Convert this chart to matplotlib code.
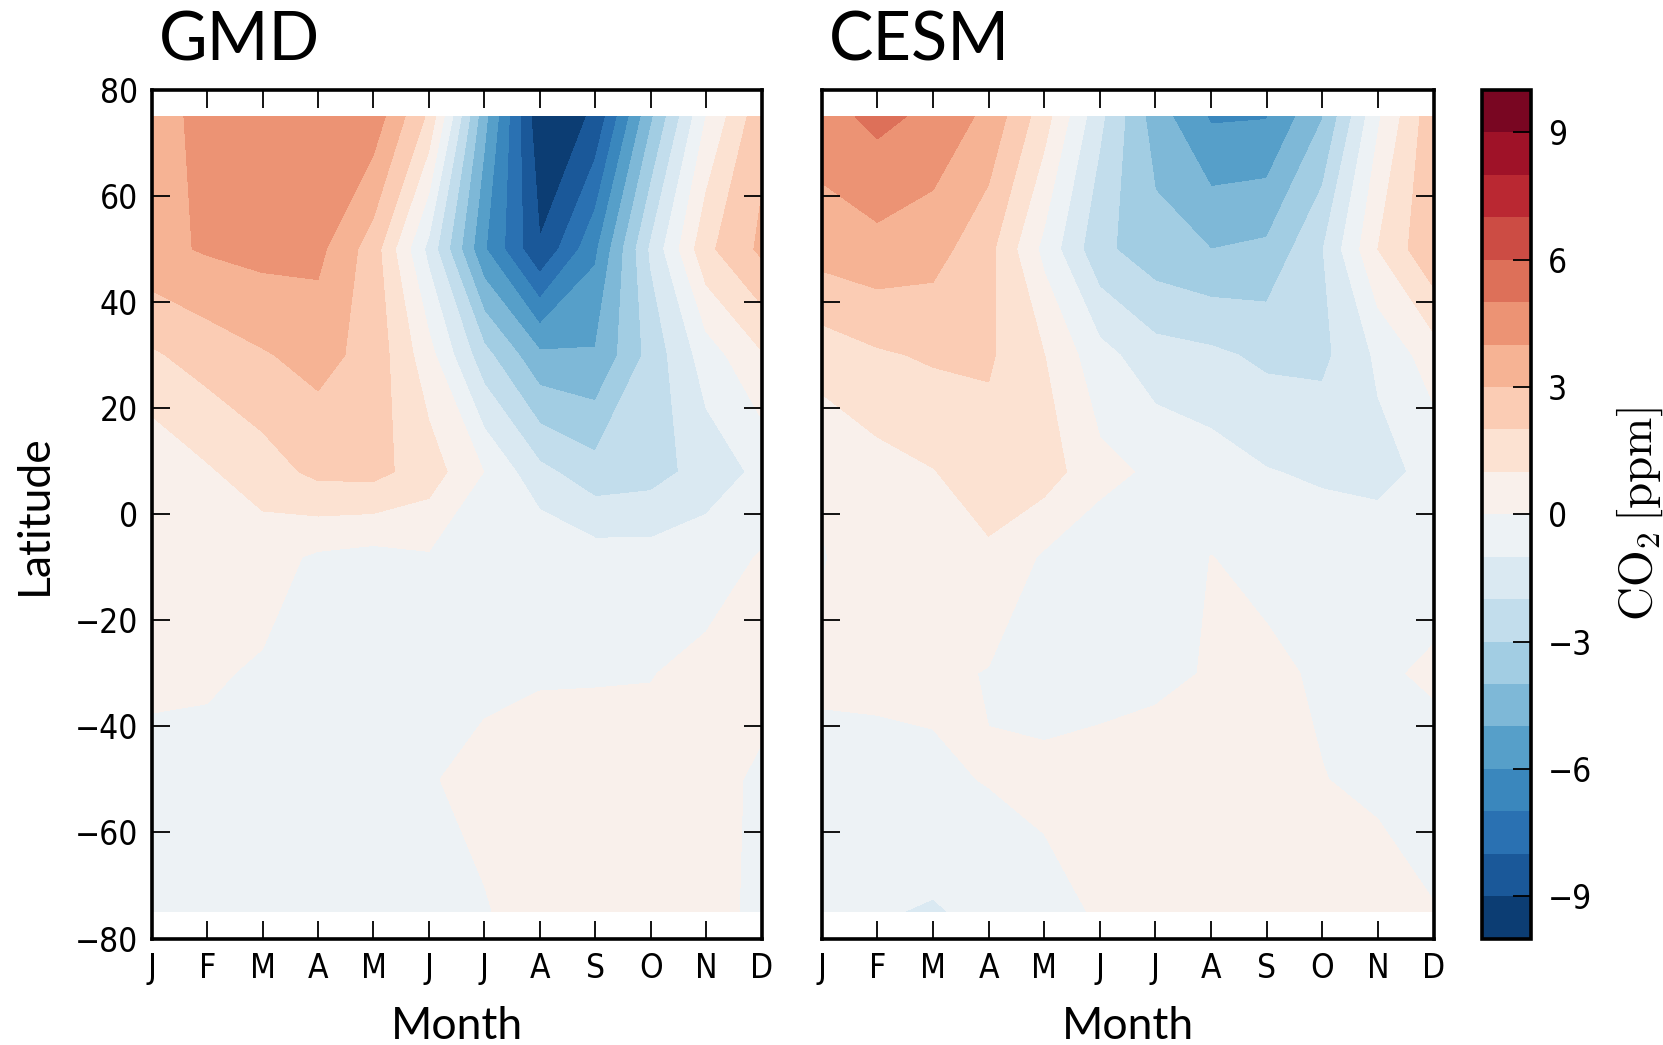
import numpy as np
import matplotlib
matplotlib.use("Agg")
import matplotlib.pyplot as plt

months = ["J", "F", "M", "A", "M", "J", "J", "A", "S", "O", "N", "D"]
lats = [-75, -50, -30, -8, 8, 30, 50, 75]

# GMD anomalies (ppm), one list per latitude (south -> north), Jan..Dec
gmd_m75 = [-0.25, -0.2, -0.3, -0.3, -0.3, -0.3, -0.05, 0.3, 0.3, 0.3, 0.3, -0.2]
gmd_m50 = [-0.25, -0.25, -0.3, -0.3, -0.3, -0.05, 0.2, 0.25, 0.25, 0.3, 0.3, -0.15]
gmd_m30 = [0.15, 0.1, -0.1, -0.3, -0.3, -0.3, -0.15, -0.05, -0.04, -0.03, 0.22, 0.3]
gmd_m08 = [0.2, 0.45, 0.38, -0.15, -0.35, -0.1, -0.02, -0.1, -0.55, -0.6, -0.4, 0.06]
gmd_p08 = [0.21, 0.875, 1.53, 2.25, 2.3, 1.5, -0.02, -1.72, -2.6, -2.4, -1.6, -0.75]
gmd_p30 = [1.86, 2.43, 2.91, 3.33, 2.65, 0.36, -2.65, -4.8, -4.9, -2.65, -0.5, 0.9]
gmd_p50 = [3.73, 4.1, 4.31, 4.27, 2.5, -1.3, -5.9, -8.92, -6.2, -1.85, 1.75, 3.2]
gmd_p75 = [3.5, 4.36, 4.5, 4.5, 4.6, 1.8, -4.7, -9.8, -8.85, -4.2, 0.0, 2.7]

# CESM anomalies (ppm)
cesm_m75 = [-0.3, -0.92, -1.09, -0.75, -0.165, 0.05, 0.3, 0.3, 0.3, 0.3, 0.35, 0.03]
cesm_m50 = [-0.3, -0.23, -0.18, 0.05, 0.115, 0.32, 0.35, 0.3, 0.3, 0.02, -0.15, -0.32]
cesm_m30 = [0.15, 0.15, 0.2, -0.05, -0.2, -0.3, -0.15, 0.05, 0.15, -0.1, -0.1, 0.1]
cesm_m08 = [-0.05, 0.4, 0.5, 0.83, -0.13, -0.58, -0.4, 0.01, -0.2, -0.4, -0.36, -0.3]
cesm_p08 = [0.13, 0.63, 0.96, 1.53, 1.48, 0.28, -0.17, -0.53, -0.95, -1.15, -1.33, -0.7]
cesm_p30 = [1.43, 1.87, 2.12, 2.14, 1.02, -0.65, -1.6, -1.8, -2.2, -2.25, -0.82, 0.5]
cesm_p50 = [3.41, 3.68, 3.4, 2.3, -0.28, -2.75, -3.6, -4.0, -3.8, -2.05, 1.0, 2.84]
cesm_p75 = [4.59, 5.27, 4.75, 3.74, 1.44, -1.76, -4.5, -6.12, -6.05, -4.05, -0.15, 2.7]

gmd = np.array([gmd_m75, gmd_m50, gmd_m30, gmd_m08, gmd_p08, gmd_p30, gmd_p50, gmd_p75])
cesm = np.array([cesm_m75, cesm_m50, cesm_m30, cesm_m08, cesm_p08, cesm_p30, cesm_p50, cesm_p75])

levels = np.arange(-10, 11, 1)
cbar_ticks = [-9, -6, -3, 0, 3, 6, 9]
ytick_vals = np.arange(-80, 81, 20)

plt.rcParams["mathtext.fontset"] = "cm"
plt.rcParams["font.family"] = ["DejaVu Sans"]

W, H = 1663, 1045
fig = plt.figure(figsize=(W / 100, H / 100), dpi=100)

def fx(px):
    return px / W

def fy(px):
    return 1 - px / H

top, bot = 90.0, 938.5
ax1 = fig.add_axes([fx(151.7), fy(bot), fx(761.5 - 151.7), (bot - top) / H])
ax2 = fig.add_axes([fx(821.7), fy(bot), fx(1433.5 - 821.7), (bot - top) / H])
cax = fig.add_axes([fx(1482), fy(bot), fx(1531 - 1482), (bot - top) / H])

x = np.arange(len(months))
tick_font = dict(family="DejaVu Sans", size=24, stretch="condensed")
for ax, data, title in [(ax1, gmd, "GMD"), (ax2, cesm, "CESM")]:
    cs = ax.contourf(x, lats, data, levels=levels, cmap="RdBu_r")
    ax.set_xlim(0, 11)
    ax.set_ylim(-80, 80)
    ax.set_xticks(x)
    ax.set_xticklabels(months, **tick_font)
    ax.set_yticks(ytick_vals)
    ax.tick_params(direction="in", top=True, right=True, length=13, width=1.3, pad=10)
    for s in ax.spines.values():
        s.set_linewidth(2.6)
    ax.set_xlabel("Month", family="Lato", fontsize=32, labelpad=15)
    ax.text(0.012, 1.021, title, transform=ax.transAxes, family="Lato", fontsize=48,
            ha="left", va="bottom")

ax1.set_yticklabels([f"{v}".replace("-", "\u2212") for v in ytick_vals], **tick_font)
ax1.set_ylabel("Latitude", family="Lato", fontsize=32, labelpad=14)
ax2.set_yticklabels([])

cb = fig.colorbar(cs, cax=cax, ticks=cbar_ticks)
cb.outline.set_linewidth(2.6)
cax.tick_params(direction="in", length=13, width=1.3, pad=12)
cax.set_yticklabels([f"{v}".replace("-", "\u2212") for v in cbar_ticks], **tick_font)
cb.set_label(r"$\mathrm{CO_2\,[ppm]}$", fontsize=34, labelpad=16)

fig.savefig("out.png", dpi=100)
